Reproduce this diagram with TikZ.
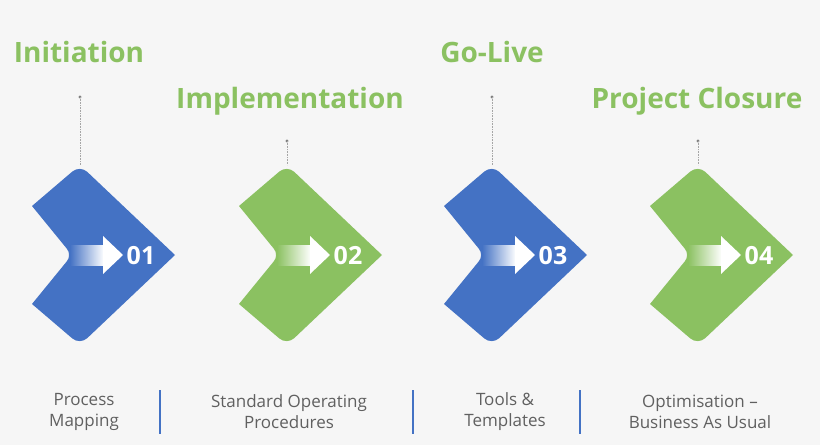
\documentclass[tikz,border=0pt]{standalone}
\usepackage{fontspec}
\setmainfont{Open Sans}
\definecolor{bg}{HTML}{F6F6F6}
\definecolor{cblue}{HTML}{4472C4}
\definecolor{cgreen}{HTML}{8BC161}
\definecolor{tgray}{HTML}{606060}
\begin{document}
\begin{tikzpicture}[x=1pt,y=-1pt,
  title/.style={text=cgreen,font=\fontsize{28}{30}\selectfont\bfseries,inner sep=0},
  num/.style={text=white,font=\fontsize{25}{27}\selectfont\bfseries,inner sep=0},
  lbl/.style={text=tgray,font=\fontsize{17}{21}\selectfont,align=center,inner sep=0},
  sep/.style={cblue,line width=2.5pt},
  dotl/.style={gray!70,densely dotted,line width=0.6pt}]
\fill[bg] (0,0) rectangle (820,445);
\useasboundingbox (0,0) rectangle (820,445);
\newcommand{\chev}[5]{%
  \begin{scope}[shift={(#1,165)}]
    \fill[#2] (-48,41) [rounded corners=10] -- (0,0) [sharp corners] -- (95,90) [rounded corners=10] -- (0,180) [sharp corners] -- (-48,139) [rounded corners=8] -- (-8,90) [sharp corners] -- cycle;
    \shade[left color=#2,right color=white] (-10,80) rectangle (24,100);
    \fill[white] (23,80) -- (23,71) -- (43,90) -- (23,109) -- (23,100) -- cycle;
    \node[num] (n#3) at (61,91) {#4};
    \coordinate (top#3) at (0,0);
  \end{scope}
  \fill[gray] (#1,#5) circle (1.6);
  \coordinate (dot#3) at (#1,#5);
  \draw[dotl] (dot#3) -- (top#3);
}
\chev{80}{cblue}{a}{01}{97}
\chev{287}{cgreen}{b}{02}{141}
\chev{492}{cblue}{c}{03}{97}
\chev{698}{cgreen}{d}{04}{141}
\node[title] (t1) at (79,52) {Initiation};
\node[title] (t2) at (290,101) {Implementation};
\node[title] (t3) at (492,52) {Go-Live};
\node[title] (t4) at (697,101) {Project Closure};
\node[lbl] (l1) at (84,412) {Process\\Mapping};
\node[lbl] (l2) at (289,412) {Standard Operating\\Procedures};
\node[lbl] (l3) at (505,412) {Tools \&\\Templates};
\node[lbl] (l4) at (700,412) {Optimisation –\\Business As Usual};
\draw[sep] (160,390) -- (160,434);
\draw[sep] (413,390) -- (413,434);
\draw[sep] (580,390) -- (580,434);
\end{tikzpicture}
\end{document}
